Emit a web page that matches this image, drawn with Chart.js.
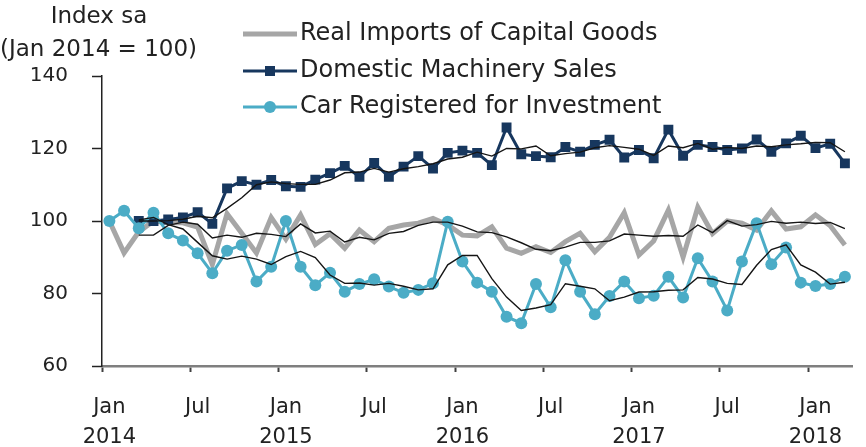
<!DOCTYPE html>
<html>
<head>
<meta charset="utf-8">
<script src="https://cdn.jsdelivr.net/npm/chart.js@4.4.1/dist/chart.umd.min.js"></script>
<style>
  html, body { margin: 0; padding: 0; background: #fff; }
  canvas { display: block; }
</style>
</head>
<body>
<canvas id="chart" width="866" height="447"></canvas>
<script>
const months = [
  'Jan 2014', 'Feb 2014', 'Mar 2014', 'Apr 2014', 'May 2014', 'Jun 2014', 'Jul 2014', 'Aug 2014', 'Sep 2014', 'Oct 2014', 'Nov 2014', 'Dec 2014',
  'Jan 2015', 'Feb 2015', 'Mar 2015', 'Apr 2015', 'May 2015', 'Jun 2015', 'Jul 2015', 'Aug 2015', 'Sep 2015', 'Oct 2015', 'Nov 2015', 'Dec 2015',
  'Jan 2016', 'Feb 2016', 'Mar 2016', 'Apr 2016', 'May 2016', 'Jun 2016', 'Jul 2016', 'Aug 2016', 'Sep 2016', 'Oct 2016', 'Nov 2016', 'Dec 2016',
  'Jan 2017', 'Feb 2017', 'Mar 2017', 'Apr 2017', 'May 2017', 'Jun 2017', 'Jul 2017', 'Aug 2017', 'Sep 2017', 'Oct 2017', 'Nov 2017', 'Dec 2017',
  'Jan 2018', 'Feb 2018', 'Mar 2018'
];

// Real Imports of Capital Goods
const realImports = [
  100, 91.2, 97, 100, 99.5, 99.5, 98.3, 88, 102, 96.6, 91.2, 101,
  95, 101.7, 93.5, 96.5, 92.5, 97.5, 94.3, 98, 98.9, 99.4, 100.7, 98.9,
  96.1, 95.9, 98.4, 92.5, 91.1, 92.9, 91.3, 94.3, 96.6, 91.5, 95.5, 102.3,
  90.6, 94.5, 103, 90, 103.8, 96.5, 100, 99.4, 97.5, 102.8, 97.8, 98.4,
  101.7, 98.7, 93.4
];
const realImports3m = [
  null, null, 96.1, 96.1, 98.8, 99.7, 99.1, 95.3, 96.1, 95.5, 96.6, 96.3,
  95.7, 99.2, 96.7, 97.2, 94.2, 95.5, 94.8, 96.6, 97.1, 98.8, 99.7, 99.7,
  98.6, 97, 96.8, 95.6, 94, 92.2, 91.8, 92.8, 94.1, 94.1, 94.5, 96.4,
  96.1, 95.8, 96, 95.8, 98.9, 96.8, 100.1, 98.6, 99, 99.9, 99.4, 99.7,
  99.3, 99.6, 97.9
];

// Domestic Machinery Sales
const machinery = [
  null, null, 100, 100, 100.4, 101, 102.4, 99.2, 109, 111, 110, 111.3,
  109.6, 109.4, 111.4, 113.2, 115.2, 112.2, 116, 112.2, 115, 117.9, 114.5, 118.8,
  119.4, 118.8, 115.4, 125.8, 118.4, 117.9, 117.6, 120.4, 119.1, 121, 122.4, 117.5,
  119.6, 117.3, 125.2, 118, 121, 120.4, 119.6, 120, 122.5, 119.1, 121.4, 123.5,
  120.1, 121.3, 115.9
];
const machinery3m = [
  null, null, 100, 100, 100.1, 100.5, 101.3, 100.9, 103.5, 106.4, 110, 110.8,
  110.3, 110.1, 110.1, 111.3, 113.3, 113.5, 114.5, 113.5, 114.4, 115, 115.8, 117.1,
  117.6, 119, 117.9, 120, 119.9, 120.7, 118, 118.6, 119, 120.2, 120.8, 120.3,
  119.8, 118.1, 120.7, 120.2, 121.4, 119.8, 120.3, 120, 120.7, 120.5, 121, 121.3,
  121.7, 121.6, 119.1
];

// Car Registered for Investment
const carReg = [
  100, 102.8, 98, 102.3, 96.6, 94.6, 91.1, 85.6, 91.8, 93.4, 83.3, 87.4,
  100, 87.4, 82.3, 85.7, 80.5, 82.6, 83.9, 81.9, 80.2, 81, 82.8, 99.8,
  88.8, 83, 80.5, 73.6, 71.8, 82.6, 76.2, 89.2, 80.5, 74.3, 79.3, 83.3,
  78.7, 79.4, 84.6, 78.9, 89.7, 83.3, 75.3, 88.8, 99.4, 88.1, 92.7, 83,
  82.1, 82.6, 84.6
];
const carReg3m = [
  null, null, 100.3, 101, 99, 97.8, 94.1, 90.4, 89.5, 90.3, 89.5, 88,
  90.2, 91.6, 89.9, 85.1, 82.8, 82.9, 82.3, 82.8, 82, 81, 81.3, 87.9,
  90.5, 90.5, 84.1, 79, 75.3, 76, 76.9, 82.7, 82, 81.3, 78, 79,
  80.4, 80.5, 80.9, 81, 84.4, 84, 82.8, 82.5, 87.8, 92.1, 93.4, 87.9,
  85.9, 82.6, 83.1
];

const yTicks = [60, 80, 100, 120, 140];

const GRAY = '#a6a6a6';
const NAVY = '#17375e';
const CYAN = '#4bacc6';
const MA = '#151515';
const TEXT = '#222222';
const FONT = '"DejaVu Sans", Verdana, sans-serif';

function maLine(data) {
  return {
    data, borderColor: MA, borderWidth: 1.4, pointRadius: 0,
    tension: 0, fill: false, spanGaps: false
  };
}

// titles and the stacked legend at top
const overlay = {
  id: 'overlay',
  afterDraw(chart) {
    const ctx = chart.ctx;
    ctx.save();
    ctx.fillStyle = TEXT;
    ctx.textBaseline = 'middle';
    ctx.font = '23px ' + FONT;
    ctx.textAlign = 'center';
    ctx.fillText('Index sa', 99, 17);
    ctx.textAlign = 'left';
    ctx.fillText('(Jan 2014 = 100)', 0, 50);

    const rows = [
      { ds: chart.data.datasets[5], y: 34 },
      { ds: chart.data.datasets[4], y: 71 },
      { ds: chart.data.datasets[3], y: 107 }
    ];
    rows.forEach(({ ds, y }) => {
      ctx.strokeStyle = ds.borderColor;
      ctx.lineWidth = ds.borderWidth;
      ctx.beginPath();
      ctx.moveTo(243, y);
      ctx.lineTo(297, y);
      ctx.stroke();
      ctx.fillStyle = ds.borderColor;
      if (ds.pointStyle === 'rect') {
        ctx.fillRect(265, y - 5, 10, 10);
      } else if (ds.pointRadius > 0) {
        ctx.beginPath();
        ctx.arc(270, y, 6, 0, Math.PI * 2);
        ctx.fill();
      }
      ctx.fillStyle = TEXT;
      ctx.font = '24px ' + FONT;
      ctx.fillText(ds.label, 300, y);
    });
    ctx.restore();
  }
};

new Chart(document.getElementById('chart'), {
  type: 'line',
  data: {
    labels: months,
    datasets: [
      maLine(machinery3m),
      maLine(realImports3m),
      maLine(carReg3m),
      {
        label: 'Car Registered for Investment', data: carReg,
        borderColor: CYAN, backgroundColor: CYAN, borderWidth: 3,
        pointStyle: 'circle', pointRadius: 6, pointBorderWidth: 0, tension: 0
      },
      {
        label: 'Domestic Machinery Sales', data: machinery,
        borderColor: NAVY, backgroundColor: NAVY, borderWidth: 3,
        pointStyle: 'rect', pointRadius: 7, pointBorderWidth: 0, tension: 0
      },
      {
        label: 'Real Imports of Capital Goods', data: realImports,
        borderColor: GRAY, borderWidth: 5, pointRadius: 0, tension: 0
      }
    ]
  },
  options: {
    responsive: false,
    animation: false,
    devicePixelRatio: 1,
    layout: { padding: { top: 76, right: 9, left: 0, bottom: 0 } },
    plugins: { legend: { display: false }, tooltip: { enabled: false } },
    scales: {
      x: {
        type: 'category',
        offset: true,
        afterFit(scale) { scale.height = 81; },
        grid: {
          offset: true,
          drawOnChartArea: false,
          tickLength: 6,
          tickWidth: 2,
          tickColor: (c) => (c.index % 6 === 0 ? '#404040' : 'rgba(0,0,0,0)')
        },
        border: { color: '#7f7f7f', width: 2.5 },
        ticks: {
          autoSkip: false,
          maxRotation: 0,
          minRotation: 0,
          padding: 21,
          color: TEXT,
          font: { family: FONT, size: 21, lineHeight: 1.43 },
          callback(value) {
            const [m, y] = this.getLabelForValue(value).split(' ');
            if (m === 'Jan') return [m, y];
            if (m === 'Jul') return m;
            return '';
          }
        }
      },
      y: {
        min: 60,
        max: 140,
        afterFit(scale) { scale.width = 102; },
        afterBuildTicks(scale) { scale.ticks = yTicks.map((v) => ({ value: v })); },
        grid: { drawOnChartArea: false, tickLength: 10, tickWidth: 1.5, tickColor: '#222' },
        border: { color: '#222', width: 1.5 },
        ticks: {
          padding: 24,
          color: TEXT,
          font: { family: FONT, size: 20 }
        }
      }
    }
  },
  plugins: [overlay]
});
</script>
</body>
</html>
